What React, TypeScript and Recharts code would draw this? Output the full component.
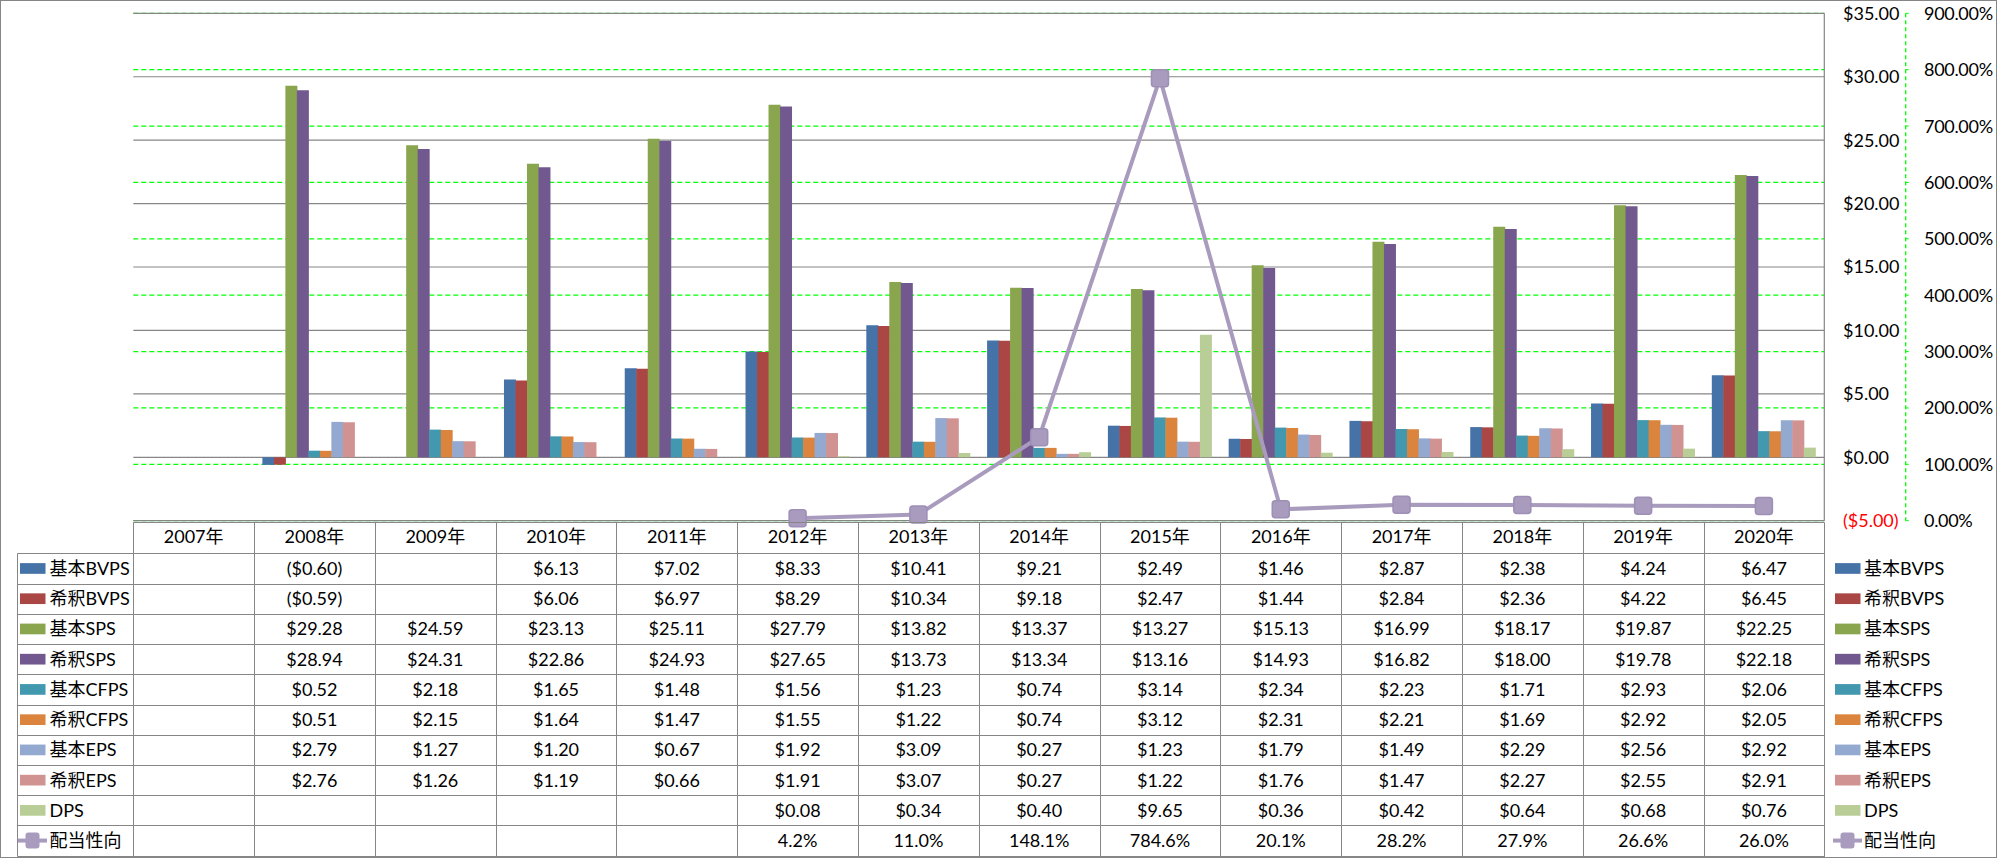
import { ComposedChart, Bar, Line, XAxis, YAxis, CartesianGrid } from "recharts";

// 年度
const years = [
  "2007年", "2008年", "2009年", "2010年", "2011年", "2012年", "2013年",
  "2014年", "2015年", "2016年", "2017年", "2018年", "2019年", "2020年",
];

// 1株当たり指標 ($)
const basicBVPS = [null, -0.6, null, 6.13, 7.02, 8.33, 10.41, 9.21, 2.49, 1.46, 2.87, 2.38, 4.24, 6.47];
const dilutedBVPS = [null, -0.59, null, 6.06, 6.97, 8.29, 10.34, 9.18, 2.47, 1.44, 2.84, 2.36, 4.22, 6.45];
const basicSPS = [null, 29.28, 24.59, 23.13, 25.11, 27.79, 13.82, 13.37, 13.27, 15.13, 16.99, 18.17, 19.87, 22.25];
const dilutedSPS = [null, 28.94, 24.31, 22.86, 24.93, 27.65, 13.73, 13.34, 13.16, 14.93, 16.82, 18.0, 19.78, 22.18];
const basicCFPS = [null, 0.52, 2.18, 1.65, 1.48, 1.56, 1.23, 0.74, 3.14, 2.34, 2.23, 1.71, 2.93, 2.06];
const dilutedCFPS = [null, 0.51, 2.15, 1.64, 1.47, 1.55, 1.22, 0.74, 3.12, 2.31, 2.21, 1.69, 2.92, 2.05];
const basicEPS = [null, 2.79, 1.27, 1.2, 0.67, 1.92, 3.09, 0.27, 1.23, 1.79, 1.49, 2.29, 2.56, 2.92];
const dilutedEPS = [null, 2.76, 1.26, 1.19, 0.66, 1.91, 3.07, 0.27, 1.22, 1.76, 1.47, 2.27, 2.55, 2.91];
const dps = [null, null, null, null, null, 0.08, 0.34, 0.4, 9.65, 0.36, 0.42, 0.64, 0.68, 0.76];

// 配当性向 (%)
const payout = [null, null, null, null, null, 4.2, 11.0, 148.1, 784.6, 20.1, 28.2, 27.9, 26.6, 26.0];

const usdTicks = [-5, 0, 5, 10, 15, 20, 25, 30, 35];
const pctTicks = [0, 100, 200, 300, 400, 500, 600, 700, 800, 900];

const series = [
  { key: "basicBVPS", name: "基本BVPS", color: "#4572A7", values: basicBVPS },
  { key: "dilutedBVPS", name: "希釈BVPS", color: "#AA4643", values: dilutedBVPS },
  { key: "basicSPS", name: "基本SPS", color: "#89A54E", values: basicSPS },
  { key: "dilutedSPS", name: "希釈SPS", color: "#71588F", values: dilutedSPS },
  { key: "basicCFPS", name: "基本CFPS", color: "#4198AF", values: basicCFPS },
  { key: "dilutedCFPS", name: "希釈CFPS", color: "#DB843D", values: dilutedCFPS },
  { key: "basicEPS", name: "基本EPS", color: "#93A9CF", values: basicEPS },
  { key: "dilutedEPS", name: "希釈EPS", color: "#D19392", values: dilutedEPS },
  { key: "dps", name: "DPS", color: "#B9CD96", values: dps },
];
const LINE_NAME = "配当性向";
const LINE_COLOR = "#A99BBD";

const data = years.map((year, i) => {
  const row: Record<string, any> = { year, payout: payout[i] };
  series.forEach((s) => (row[s.key] = s.values[i]));
  return row;
});

// レイアウト
const W = 1997;
const H = 858;
const PLOT_L = 133.3;
const PLOT_T = 13.3;
const PLOT_R = 1824.3;
const PLOT_B = 520.7;
const USD_AXIS_W = 81.4;
const PCT_AXIS_W = 90;
const HEAD_T = 521.7;
const HEAD_B = 553.3;
const ROW_H = 30.24;
const LABEL_L = 16.7;
const FONT = "Lato, 'Noto Sans CJK JP', sans-serif";
const FS = 18;
const GRAY = "#868686";

// 軸ID (a = ドル, b = %)
const USD = "a";
const PCT = "b";

const fmtUsd = (v: number | null) =>
  v == null ? "" : v < 0 ? `($${Math.abs(v).toFixed(2)})` : `$${v.toFixed(2)}`;
const fmtPct = (v: number | null) => (v == null ? "" : `${v.toFixed(1)}%`);

const UsdTick = ({ x, y, payload }: any) => {
  const v = payload.value;
  return (
    <text x={x} y={y} dy="0.36em" textAnchor="start" fontSize={FS} fontFamily={FONT} fill={v < 0 ? "#FF0000" : "#000"}>
      {fmtUsd(v)}
    </text>
  );
};

const PctTick = ({ x, y, payload }: any) => (
  <text x={x} y={y} dy="0.36em" textAnchor="start" fontSize={FS} fontFamily={FONT} letterSpacing={-0.3} fill="#000">
    {`${payload.value.toFixed(2)}%`}
  </text>
);

const SquareDot = (props: any) => {
  const { cx, cy, value } = props;
  if (value == null || cx == null || cy == null) return null;
  return (
    <rect x={cx - 8.5} y={cy - 8.5} width={17} height={17} rx={3} fill={LINE_COLOR} stroke="#9D8FB6" strokeWidth={1.5} />
  );
};

function LegendKey({ x, y, color, line }: { x: number; y: number; color: string; line?: boolean }) {
  if (line) {
    return (
      <g>
        <line x1={x - 2} x2={x + 27} y1={y} y2={y} stroke={color} strokeWidth={4} />
        <rect x={x + 5.5} y={y - 8} width={14} height={16} rx={3} fill={color} />
      </g>
    );
  }
  return <rect x={x} y={y - 5.3} width={25.5} height={10.7} fill={color} />;
}

function DataTable() {
  const colW = (PLOT_R - PLOT_L) / years.length;
  const rows = [
    ...series.map((s) => ({ label: s.name, color: s.color, line: false, cells: s.values.map(fmtUsd) })),
    { label: LINE_NAME, color: LINE_COLOR, line: true, cells: payout.map(fmtPct) },
  ];
  const bottom = HEAD_B + rows.length * ROW_H;
  const crisp = (v: number) => Math.round(v) + 0.5;

  return (
    <svg width={W} height={H} style={{ position: "absolute", left: 0, top: 0, pointerEvents: "none" }}>
      {/* 枠線 */}
      <line x1={crisp(PLOT_L)} x2={crisp(PLOT_R)} y1={crisp(HEAD_T)} y2={crisp(HEAD_T)} stroke={GRAY} />
      {rows.map((_, i) => (
        <line key={`h${i}`} x1={crisp(LABEL_L)} x2={crisp(PLOT_R)} y1={crisp(HEAD_B + i * ROW_H)} y2={crisp(HEAD_B + i * ROW_H)} stroke={GRAY} />
      ))}
      <line x1={crisp(LABEL_L)} x2={crisp(PLOT_R)} y1={crisp(bottom)} y2={crisp(bottom)} stroke={GRAY} />
      <line x1={crisp(LABEL_L)} x2={crisp(LABEL_L)} y1={crisp(HEAD_B)} y2={crisp(bottom)} stroke={GRAY} />
      {years.map((_, j) => (
        <line key={`v${j}`} x1={crisp(PLOT_L + j * colW)} x2={crisp(PLOT_L + j * colW)} y1={crisp(HEAD_T)} y2={crisp(bottom)} stroke={GRAY} />
      ))}
      <line x1={crisp(PLOT_R)} x2={crisp(PLOT_R)} y1={crisp(HEAD_T)} y2={H} stroke={GRAY} />

      {/* 見出し */}
      {years.map((y, j) => (
        <text key={`y${j}`} x={PLOT_L + (j + 0.5) * colW} y={(HEAD_T + HEAD_B) / 2 - 1} dy="0.36em" textAnchor="middle" fontSize={FS} fontFamily={FONT} fill="#000">
          {y}
        </text>
      ))}

      {/* データ行 + 凡例 */}
      {rows.map((r, i) => {
        const cy = HEAD_B + (i + 0.5) * ROW_H;
        return (
          <g key={`r${i}`}>
            <LegendKey x={20} y={cy} color={r.color} line={r.line} />
            <text x={49.5} y={cy} dy="0.36em" fontSize={FS} fontFamily={FONT} fill="#000">{r.label}</text>
            {r.cells.map((c, j) => (
              <text key={j} x={PLOT_L + (j + 0.5) * colW} y={cy} dy="0.36em" textAnchor="middle" fontSize={FS} fontFamily={FONT} fill="#000">
                {c}
              </text>
            ))}
            <LegendKey x={1835} y={cy} color={r.color} line={r.line} />
            <text x={1864} y={cy} dy="0.36em" fontSize={FS} fontFamily={FONT} fill="#000">{r.label}</text>
          </g>
        );
      })}
    </svg>
  );
}

export default function App() {
  return (
    <div style={{ position: "absolute", left: 0, top: 0, width: W, height: H, background: "#fff", fontFamily: FONT }}>
      <ComposedChart
        width={W}
        height={H}
        data={data}
        margin={{ top: PLOT_T, right: W - PLOT_R - USD_AXIS_W - PCT_AXIS_W, bottom: H - PLOT_B, left: PLOT_L }}
        barCategoryGap={8.3}
        barGap={-0.5}
      >
        <CartesianGrid yAxisId={PCT} vertical={false} stroke="#00FF00" strokeWidth={1.3} strokeDasharray="5 3" />
        <CartesianGrid yAxisId={USD} vertical={false} stroke={GRAY} strokeWidth={1.2} />
        <XAxis dataKey="year" hide />
        <YAxis
          yAxisId={PCT}
          orientation="right"
          domain={[0, 900]}
          ticks={pctTicks}
          interval={0}
          width={PCT_AXIS_W}
          axisLine={{ stroke: "#00FF00", strokeDasharray: "4 3", strokeWidth: 1.3 }}
          tickLine={{ stroke: "#00FF00" }}
          tickSize={3}
          tickMargin={15.3}
          tick={<PctTick />}
        />
        <YAxis
          yAxisId={USD}
          orientation="right"
          domain={[-5, 35]}
          ticks={usdTicks}
          interval={0}
          width={USD_AXIS_W}
          axisLine={{ stroke: GRAY, strokeWidth: 1.2 }}
          tickLine={false}
          tickSize={0}
          tickMargin={18.7}
          tick={<UsdTick />}
        />
        {series.map((s) => (
          <Bar key={s.key} yAxisId={USD} dataKey={s.key} name={s.name} fill={s.color} isAnimationActive={false} />
        ))}
        <Line
          yAxisId={PCT}
          dataKey="payout"
          name={LINE_NAME}
          stroke={LINE_COLOR}
          strokeWidth={4}
          dot={<SquareDot />}
          activeDot={false}
          isAnimationActive={false}
        />
      </ComposedChart>
      <DataTable />
      <div style={{ position: "absolute", inset: 0, border: `1px solid ${GRAY}`, boxSizing: "border-box", pointerEvents: "none" }} />
    </div>
  );
}
